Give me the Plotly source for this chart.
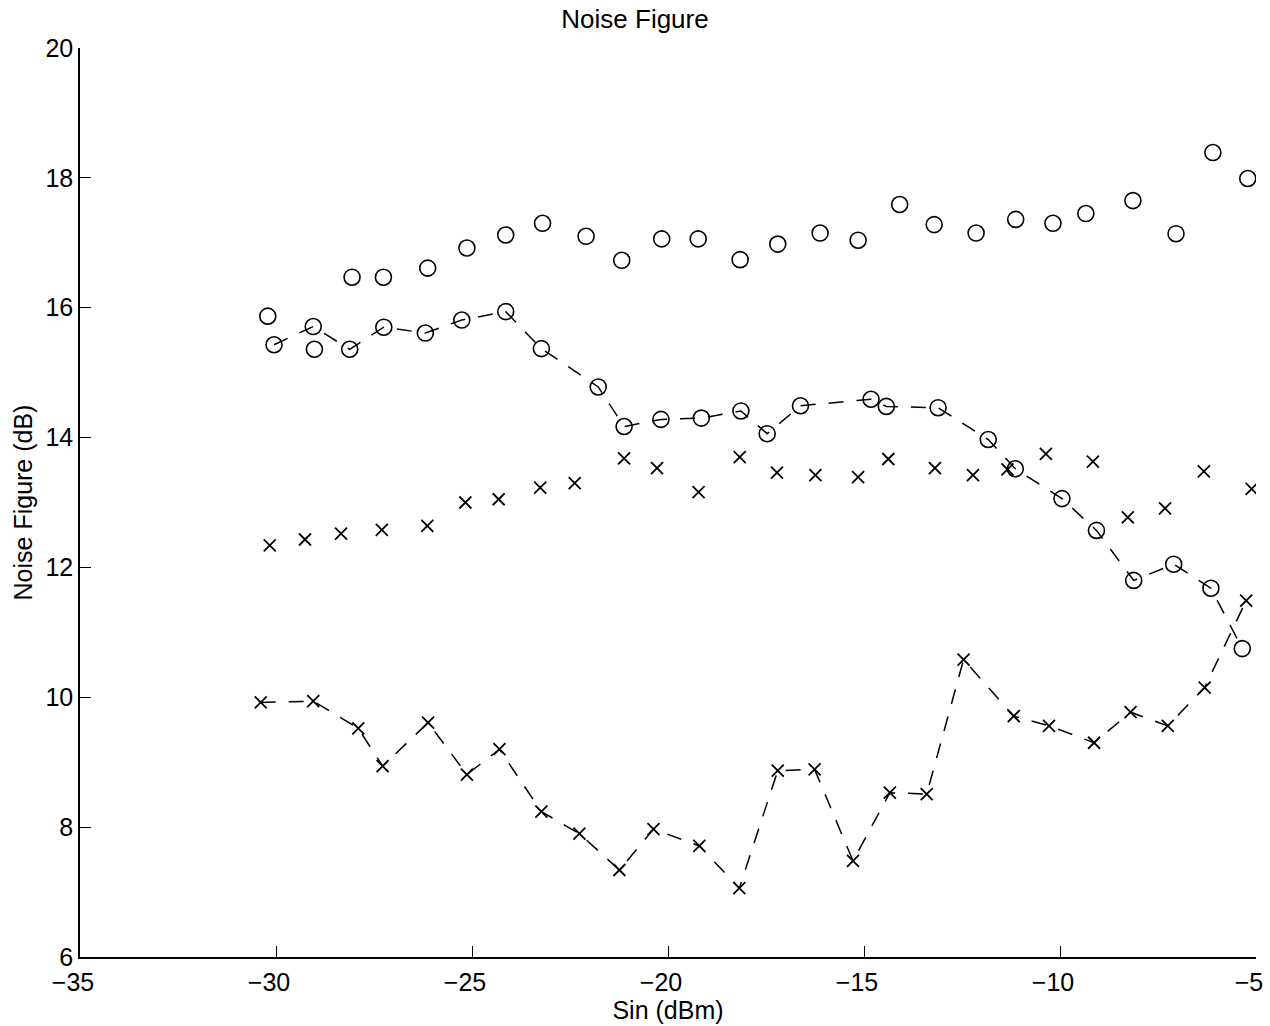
import plotly.graph_objects as go

# Series A: open circles, markers only (top)
a_x = [-30.21, -29.02, -28.06, -27.26, -26.13, -25.13, -24.14, -23.20, -22.09, -21.18,
       -20.16, -19.23, -18.16, -17.20, -16.12, -15.15, -14.09, -13.21, -12.14, -11.13,
       -10.18, -9.34, -8.14, -7.04, -6.10, -5.21]
a_y = [15.87, 15.36, 16.47, 16.47, 16.61, 16.92, 17.12, 17.30, 17.10, 16.73,
       17.06, 17.06, 16.74, 16.98, 17.15, 17.04, 17.59, 17.28, 17.15, 17.36,
       17.30, 17.45, 17.65, 17.14, 18.39, 17.99]

# Series B: open circles with dashed line
b_x = [-30.05, -29.05, -28.12, -27.25, -26.19, -25.26, -24.14, -23.23, -21.78, -21.12,
       -20.18, -19.15, -18.14, -17.47, -16.62, -14.82, -14.43, -13.11, -11.83, -11.14,
       -9.95, -9.07, -8.12, -7.10, -6.15, -5.35]
b_y = [15.43, 15.71, 15.36, 15.70, 15.61, 15.81, 15.94, 15.37, 14.78, 14.17,
       14.28, 14.30, 14.41, 14.06, 14.49, 14.59, 14.48, 14.46, 13.97, 13.52,
       13.06, 12.57, 11.80, 12.05, 11.68, 10.75]

# Series C: crosses, markers only
c_x = [-30.16, -29.26, -28.34, -27.30, -26.14, -25.17, -24.32, -23.26, -22.38, -21.12,
       -20.28, -19.22, -18.17, -17.22, -16.24, -15.15, -14.38, -13.19, -12.22, -11.34,
       -10.36, -9.16, -8.27, -7.32, -6.33, -5.11]
c_y = [12.34, 12.43, 12.52, 12.58, 12.64, 13.00, 13.05, 13.23, 13.30, 13.68,
       13.53, 13.16, 13.70, 13.46, 13.42, 13.39, 13.67, 13.53, 13.42, 13.51,
       13.75, 13.63, 12.77, 12.91, 13.48, 13.21]

# Series D: crosses with dashed line
d_x = [-30.39, -29.05, -27.90, -27.28, -26.12, -25.13, -24.30, -23.23, -22.26, -21.24,
       -20.37, -19.20, -18.18, -17.20, -16.26, -15.28, -14.34, -13.40, -12.46, -11.18,
       -10.28, -9.13, -8.20, -7.25, -6.31, -5.25]
d_y = [9.92, 9.94, 9.52, 8.94, 9.61, 8.81, 9.20, 8.24, 7.90, 7.34,
       7.97, 7.71, 7.06, 8.87, 8.89, 7.48, 8.53, 8.51, 10.58, 9.71,
       9.56, 9.30, 9.77, 9.56, 10.15, 11.49]

x_ticks = [-35, -30, -25, -20, -15, -10, -5]
y_ticks = [6, 8, 10, 12, 14, 16, 18, 20]

FONT = "Liberation Sans, Arial, Helvetica, sans-serif"
dash = "15px,13px"
FS = 25

fig = go.Figure()
fig.add_trace(go.Scatter(x=b_x, y=b_y, mode="lines+markers",
                         line=dict(color="black", width=1.5, dash=dash),
                         marker=dict(symbol="circle-open", size=16, color="black",
                                     line=dict(width=1.6, color="black"))))
fig.add_trace(go.Scatter(x=d_x, y=d_y, mode="lines+markers",
                         line=dict(color="black", width=1.5, dash=dash),
                         marker=dict(symbol="x-thin-open", size=12, color="black",
                                     line=dict(width=1.8, color="black"))))
fig.add_trace(go.Scatter(x=a_x, y=a_y, mode="markers",
                         marker=dict(symbol="circle-open", size=16, color="black",
                                     line=dict(width=1.6, color="black"))))
fig.add_trace(go.Scatter(x=c_x, y=c_y, mode="markers",
                         marker=dict(symbol="x-thin-open", size=12, color="black",
                                     line=dict(width=1.8, color="black"))))

fig.update_layout(
    width=1270, height=1026,
    margin=dict(l=80, r=14, t=48, b=69),
    paper_bgcolor="white", plot_bgcolor="white",
    showlegend=False,
    font=dict(family=FONT, size=FS, color="black"),
    title=dict(text="Noise Figure", x=0.5, xanchor="center", y=0.982, yanchor="middle",
               font=dict(family=FONT, size=26, color="black")),
    xaxis=dict(range=[-35, -5], tickvals=x_ticks, ticktext=[f"\u2212{abs(v)}" for v in x_ticks],
               showgrid=False, zeroline=False, showline=True, linecolor="black", linewidth=1.5,
               ticks="inside", ticklen=11, tickwidth=1.2, tickcolor="black",
               tickfont=dict(family=FONT, size=FS, color="black"),
               ticklabeloverflow="allow", ticklabelshift=-7, ticklabelstandoff=2,
               title=dict(text="Sin (dBm)", standoff=6, font=dict(family=FONT, size=FS, color="black")),
               automargin=False, mirror=False),
    yaxis=dict(range=[6, 20], tickvals=y_ticks,
               showgrid=False, zeroline=False, showline=True, linecolor="black", linewidth=1.5,
               ticks="inside", ticklen=11, tickwidth=1.2, tickcolor="black",
               tickfont=dict(family=FONT, size=FS, color="black"),
               ticklabeloverflow="allow",
               title=dict(text="Noise Figure (dB)", standoff=6, font=dict(family=FONT, size=FS, color="black")),
               automargin=False, mirror=False),
)

fig.write_html("out.html")
